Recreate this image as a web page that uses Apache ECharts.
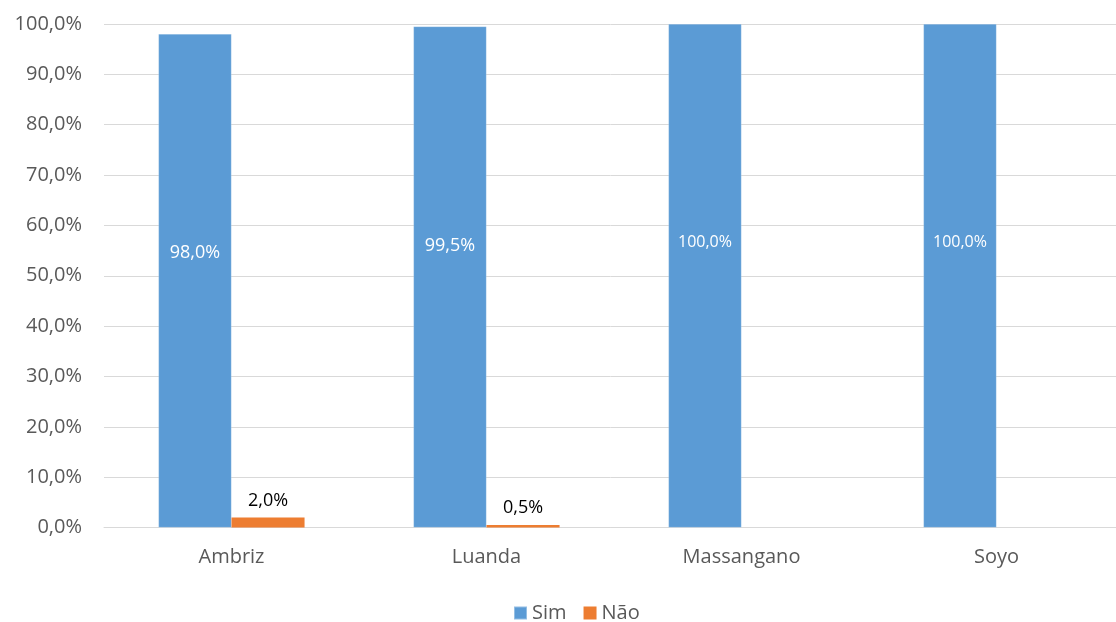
<!DOCTYPE html>
<html>
<head>
<meta charset="utf-8">
<script src="https://cdn.jsdelivr.net/npm/echarts@6/dist/echarts.min.js"></script>
<style>
html,body{margin:0;padding:0;background:#fff;}
#chart{width:1116px;height:622px;}
</style>
</head>
<body>
<div id="chart"></div>
<script>
var categories = ['Ambriz', 'Luanda', 'Massangano', 'Soyo'];
var simValues = [98.0, 99.5, 100.0, 100.0];
var naoValues = [2.0, 0.5, 0, 0];
var seriesNames = ['Sim', 'Não'];
var yTicks = [0, 10, 20, 30, 40, 50, 60, 70, 80, 90, 100];

function pct(v) { return v.toFixed(1).replace('.', ',') + '%'; }

var FONT = '"Open Sans", "Noto Sans", sans-serif';
var chart = echarts.init(document.getElementById('chart'), null, {renderer: 'canvas'});
chart.setOption({
  animation: false,
  backgroundColor: '#ffffff',
  textStyle: {fontFamily: FONT},
  grid: {left: 104, width: 1020, top: 24, bottom: 94.5, containLabel: false, outerBoundsMode: 'none'},
  legend: {
    data: seriesNames,
    top: 598,
    left: 508,
    icon: 'rect',
    itemWidth: 13,
    itemHeight: 13,
    itemGap: 17,
    textStyle: {color: '#595959', fontSize: 20, fontFamily: FONT}
  },
  xAxis: {
    type: 'category',
    data: categories,
    axisLine: {show: true, lineStyle: {color: '#D9D9D9', width: 1}},
    axisTick: {show: false},
    axisLabel: {color: '#595959', fontSize: 20, margin: 20, fontFamily: FONT}
  },
  yAxis: {
    type: 'value',
    min: yTicks[0],
    max: yTicks[yTicks.length - 1],
    interval: 10,
    axisLine: {show: false},
    axisTick: {show: false},
    splitLine: {lineStyle: {color: '#D9D9D9', width: 1}},
    axisLabel: {color: '#595959', fontSize: 20, margin: 22, fontFamily: FONT, formatter: function (v) { return pct(v); }}
  },
  series: [
    {
      name: seriesNames[0],
      type: 'bar',
      data: simValues,
      barGap: '0%',
      barCategoryGap: '42.7%',
      itemStyle: {color: '#5B9BD5', borderColor: 'rgba(255,255,255,0.35)', borderWidth: 0.5},
      label: {
        show: true,
        position: 'insideTop',
        distance: 210,
        color: '#ffffff',
        fontFamily: FONT,
        formatter: function (p) { return p.value >= 100 ? '{s|' + pct(p.value) + '}' : '{n|' + pct(p.value) + '}'; },
        rich: {
          n: {fontSize: 18, color: '#ffffff', fontFamily: FONT},
          s: {fontSize: 16, color: '#ffffff', fontFamily: FONT}
        }
      }
    },
    {
      name: seriesNames[1],
      type: 'bar',
      data: naoValues,
      itemStyle: {color: '#ED7D31'},
      label: {
        show: true,
        position: 'top',
        distance: 8,
        color: '#000000',
        fontSize: 18,
        fontFamily: FONT,
        formatter: function (p) { return p.value > 0 ? pct(p.value) : ''; }
      }
    }
  ]
});
</script>
</body>
</html>
